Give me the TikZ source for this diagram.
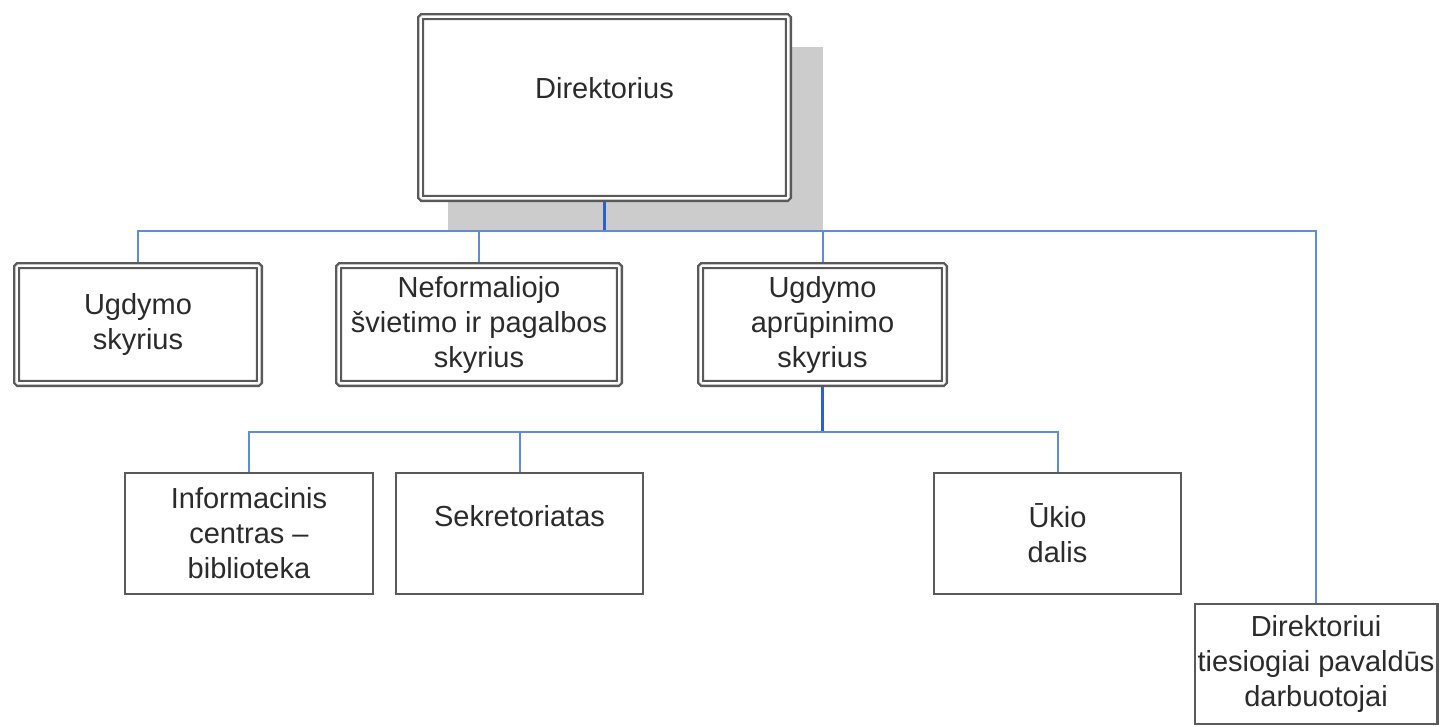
\documentclass[tikz,border=0pt]{standalone}
\usepackage{fontspec}
\setmainfont{Liberation Sans}
\definecolor{linkblue}{HTML}{5B8DD9}
\definecolor{stemblue}{HTML}{2A62C9}
\definecolor{boxgray}{HTML}{5A5A5A}
\definecolor{shadowgray}{HTML}{CCCCCC}
\definecolor{txt}{HTML}{2B2B2B}
\begin{document}
\begin{tikzpicture}[x=1pt,y=-1pt,
  txtstyle/.style={align=center, inner sep=0pt, font=\fontsize{29}{35}\selectfont, text=txt},
  dbox/.style={txtstyle, draw=boxgray, line width=2.4pt, double=white, double distance=2.4pt, fill=white, rounded corners=1.5pt, outer sep=3.6pt},
  sbox/.style={txtstyle, draw=boxgray, line width=2.4pt, fill=white, outer sep=1.2pt},
  conn/.style={draw=linkblue, line width=2pt},
  stemline/.style={draw=stemblue, line width=3pt}]
\useasboundingbox (0,0) rectangle (1440,726);
\fill[white] (0,0) rectangle (1440,726);
% shadow of top box
\fill[shadowgray] (448,47) rectangle (823,230);
% top box
\node[dbox, minimum width=367.8pt, minimum height=181.8pt] (top) at (604.5,107.5) {Direktorius\\[4pt]\mbox{}};
% second level
\node[dbox, minimum width=242.8pt, minimum height=117.8pt] (ugd) at (138,324.5) {Ugdymo\\skyrius};
\node[dbox, minimum width=280.8pt, minimum height=117.8pt] (nef) at (479,324.5) {Neformaliojo\\švietimo ir pagalbos\\skyrius};
\node[dbox, minimum width=243.8pt, minimum height=117.8pt] (apr) at (822.5,324.5) {Ugdymo\\aprūpinimo\\skyrius};
% third level
\node[sbox, minimum width=247.6pt, minimum height=120.6pt] (info) at (249,533.5) {Informacinis\\centras –\\biblioteka};
\node[sbox, minimum width=246.6pt, minimum height=120.6pt] (sek) at (519.5,533.5) {Sekretoriatas\\\mbox{}};
\node[sbox, minimum width=246.6pt, minimum height=120.6pt] (ukio) at (1057.5,533.5) {Ūkio\\dalis};
\node[sbox, minimum width=242.6pt, minimum height=119.6pt] (dir2) at (1316,664) {Direktoriui\\tiesiogiai pavaldūs\\darbuotojai};
% connectors level 1
\coordinate (bus1) at (top.south |- 0,231);
\draw[stemline] (top.south) -- (bus1);
\draw[conn] (bus1) -| (ugd.north);
\draw[conn] (bus1) -| (nef.north);
\draw[conn] (bus1) -| (apr.north);
\draw[conn] (bus1) -| (dir2.north);
% connectors level 2
\coordinate (bus2) at (apr.south |- 0,432);
\draw[stemline] (apr.south) -- (bus2);
\draw[conn] (bus2) -| (info.north);
\draw[conn] (bus2) -| (sek.north);
\draw[conn] (bus2) -| (ukio.north);
\end{tikzpicture}
\end{document}
